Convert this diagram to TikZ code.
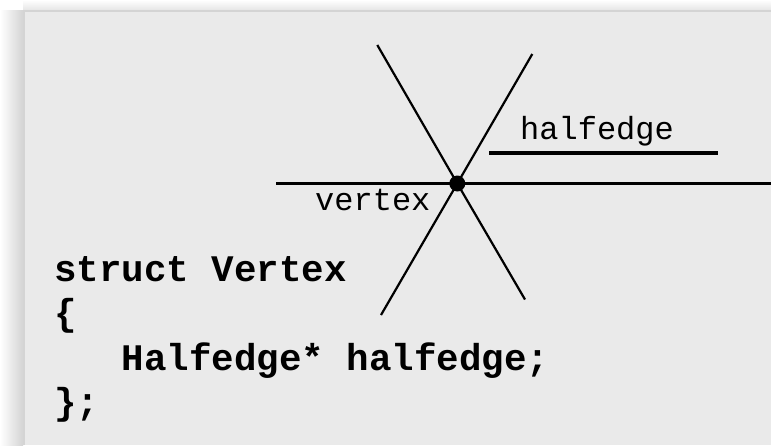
\documentclass[tikz,border=0pt]{standalone}
\usepackage{fontspec}
\setmonofont{Liberation Mono}
\definecolor{panelgray}{HTML}{EAEAEA}
\definecolor{paneledge}{HTML}{D4D4D4}
\tikzset{
  thinline/.style={line width=2.2pt, black},
  barline/.style={line width=4.6pt, black},
  codetext/.style={anchor=base west, inner sep=0pt, font=\ttfamily\bfseries\fontsize{37.5}{37.5}\selectfont},
  labeltext/.style={anchor=base west, inner sep=0pt, font=\ttfamily\fontsize{32}{32}\selectfont},
  vdot/.style={circle, fill=black, inner sep=0pt, minimum size=16pt},
}
\begin{document}
\begin{tikzpicture}[x=1pt, y=-1pt]
\useasboundingbox (0,0) rectangle (771,445);
% background and panel with shadow
\fill[white] (0,0) rectangle (771,445);
\shade[left color=white, right color=black!17] (0,10) rectangle (23,445);
\shade[top color=white, bottom color=black!10] (23,0) rectangle (771,10);
\fill[panelgray] (23,10) rectangle (771,445);
\draw[paneledge, line width=1.5pt] (23.75,445) -- (23.75,10.75) -- (771,10.75);
% geometry
\coordinate (hl) at (276,183.5);
\coordinate (hr) at (771,183.5);
\coordinate (a1) at (377.3,45);
\coordinate (a2) at (525,299.5);
\coordinate (b1) at (532.3,54);
\coordinate (b2) at (381,315);
\coordinate (bar1) at (489,153);
\coordinate (bar2) at (718,153);
\node[vdot] (v) at (457.3,183.5) {};
\draw[thinline] (hl) -- (v.center) -- (hr);
\draw[thinline] (a1) -- (v.center) -- (a2);
\draw[thinline] (b1) -- (v.center) -- (b2);
\draw[barline] (bar1) -- (bar2);
% labels
\node[labeltext] (vlabel) at (315,210) {vertex};
\node[labeltext] (hlabel) at (520,139) {halfedge};
% code
\node[codetext] (code1) at (54,281) {struct Vertex};
\node[codetext] (code2) at (54,325.5) {\{};
\node[codetext] (code3) at (121.5,370) {Halfedge* halfedge;};
\node[codetext] (code4) at (54,414) {\};};
\end{tikzpicture}
\end{document}
